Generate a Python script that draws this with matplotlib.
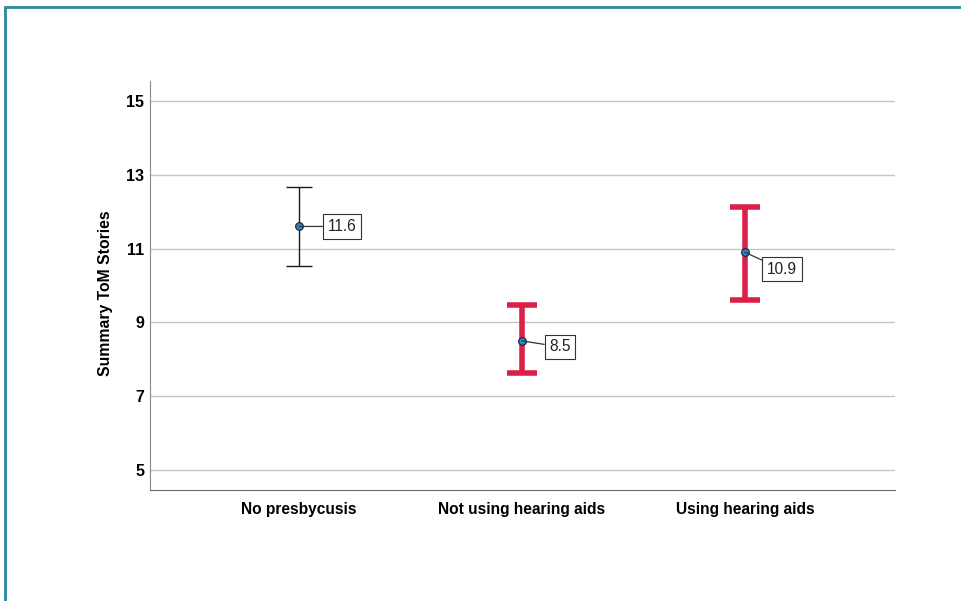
import matplotlib
matplotlib.use("Agg")
from matplotlib import pyplot as plt
from matplotlib.patches import Rectangle

plt.rcParams['font.family'] = ['Liberation Sans', 'DejaVu Sans']

groups = ["No presbycusis", "Not using hearing aids", "Using hearing aids"]
means = [11.6, 8.5, 10.9]
upper = [12.67, 9.47, 12.13]
lower = [10.53, 7.63, 9.61]
bar_colors = ["#1a1a1a", "#dc1f48", "#dc1f48"]
bar_widths = [1.0, 4.0, 4.0]
cap_sizes = [9.4, 11, 11]
label_offsets = [(43, 0), (38, -6), (37, -17)]

fig = plt.figure(figsize=(9.61, 6.01), dpi=100)

# outer frame line (top and left)
fig.add_artist(Rectangle((0.0055, -0.01), 1.1, 1.0 - 0.0055 - 0.0055 + 0.01,
                         transform=fig.transFigure, fill=False,
                         edgecolor="#2b8a9e", linewidth=2.0))

ax = fig.add_axes([0.1561, 0.1847, 0.7752, 0.6805])

x = list(range(len(groups)))
for i in x:
    ax.errorbar(i, means[i],
                yerr=[[means[i] - lower[i]], [upper[i] - means[i]]],
                fmt="none", ecolor=bar_colors[i], elinewidth=bar_widths[i],
                capsize=cap_sizes[i], capthick=bar_widths[i], zorder=3)
    ax.plot(i, means[i], "o", markersize=5.5, markerfacecolor="#2f86c8",
            markeredgecolor="#1c2a3a", markeredgewidth=0.9, zorder=5)
    dx, dy = label_offsets[i]
    ax.annotate("%.1f" % means[i], xy=(i, means[i]), xytext=(dx, dy),
                textcoords="offset pixels", ha="center", va="center",
                fontsize=11.2, color="#222222",
                bbox=dict(boxstyle="square,pad=0.3", facecolor="white",
                          edgecolor="#333333", linewidth=0.8),
                arrowprops=dict(arrowstyle="-", color="#333333", lw=0.9,
                                shrinkA=0, shrinkB=0),
                zorder=6)

ax.set_xlim(-0.668, 2.673)
ax.set_ylim(4.46, 15.54)
ax.set_yticks([5, 7, 9, 11, 13, 15])
ax.set_xticks(x)
ax.set_xticklabels(groups, fontsize=11.2, fontweight="bold")
for lab in ax.get_yticklabels():
    lab.set_fontsize(11.5)
    lab.set_fontweight("bold")
ax.tick_params(length=0)
ax.tick_params(axis="y", pad=4)
ax.tick_params(axis="x", pad=9)

ax.yaxis.grid(True, color="#c4c4c4", linewidth=1.0)
ax.set_axisbelow(True)
ax.spines["top"].set_visible(False)
ax.spines["right"].set_visible(False)
ax.spines["left"].set_color("#8a8a8a")
ax.spines["bottom"].set_color("#6a6a6a")

ax.set_ylabel("Summary ToM Stories", fontsize=11.3, fontweight="bold")
ax.yaxis.set_label_coords(-0.050, 0.482)

plt.savefig("out.png", dpi=100)
